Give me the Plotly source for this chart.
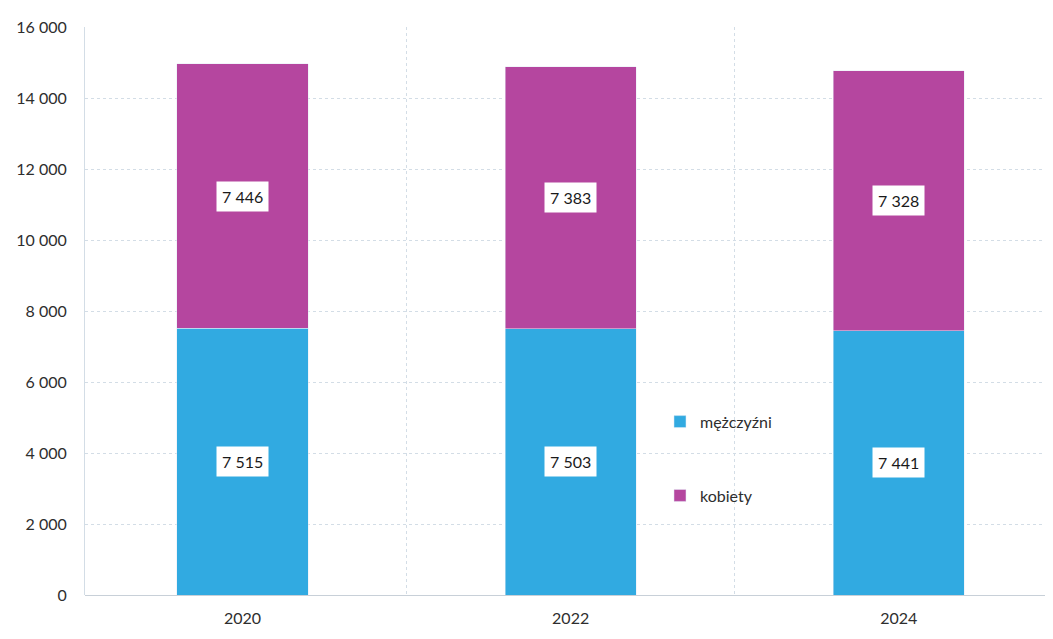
import plotly.graph_objects as go

# Data
lata = ['2020', '2022', '2024']
mezczyzni = [7515, 7503, 7441]
kobiety = [7446, 7383, 7328]

pos = list(range(len(lata)))
niebieski = '#31AAE1'
fiolet = '#B5469F'

fig = go.Figure()
fig.add_trace(go.Bar(x=pos, y=mezczyzni, name='mężczyźni', marker_color=niebieski,
                     width=0.4, legendgroup='m'))
fig.add_trace(go.Bar(x=pos, y=kobiety, name='kobiety', marker_color=fiolet,
                     width=0.4, legendgroup='k'))

# white value boxes in the middle of each segment
for i in pos:
    for val, base in ((mezczyzni[i], 0), (kobiety[i], mezczyzni[i])):
        fig.add_annotation(x=i, y=base + val / 2, text=f'{val:,}'.replace(',', ' '),
                           showarrow=False, bgcolor='white', borderpad=5,
                           font=dict(size=16, color='#1a1a1a'))

# page body has an 8px margin, so the figure is shrunk to fit the window
fig.update_layout(
    barmode='stack',
    width=1045, height=631,
    margin=dict(l=77, r=0, t=19, b=44),
    paper_bgcolor='white', plot_bgcolor='white',
    font=dict(family='Lato, Noto Sans, sans-serif', size=16, color='#2e2e2e'),
    separators=', ',
    showlegend=True,
    legend=dict(x=0.594, y=0.335, xanchor='left', yanchor='top',
                bgcolor='rgba(0,0,0,0)', tracegroupgap=50,
                font=dict(size=16, color='#2e2e2e')),
)

fig.update_xaxes(
    tickmode='array', tickvals=pos, ticktext=lata,
    range=[-0.48, 2.47], showgrid=False, ticks='', zeroline=False,
    showline=False, ticklabelstandoff=12,
    minor=dict(tickvals=[0.5, 1.5], showgrid=True, gridcolor='#d3dde6',
               griddash='dot', gridwidth=1),
)
fig.update_yaxes(
    range=[0, 16000], dtick=2000, tickformat=',d',
    showgrid=True, gridcolor='#d3dde6', griddash='dot', gridwidth=1,
    zeroline=True, zerolinecolor='#c8d0d8', zerolinewidth=1,
    showline=True, linecolor='#d3dde6', linewidth=1, ticks='',
    ticklabelstandoff=14,
)

fig.write_html('out.html')
